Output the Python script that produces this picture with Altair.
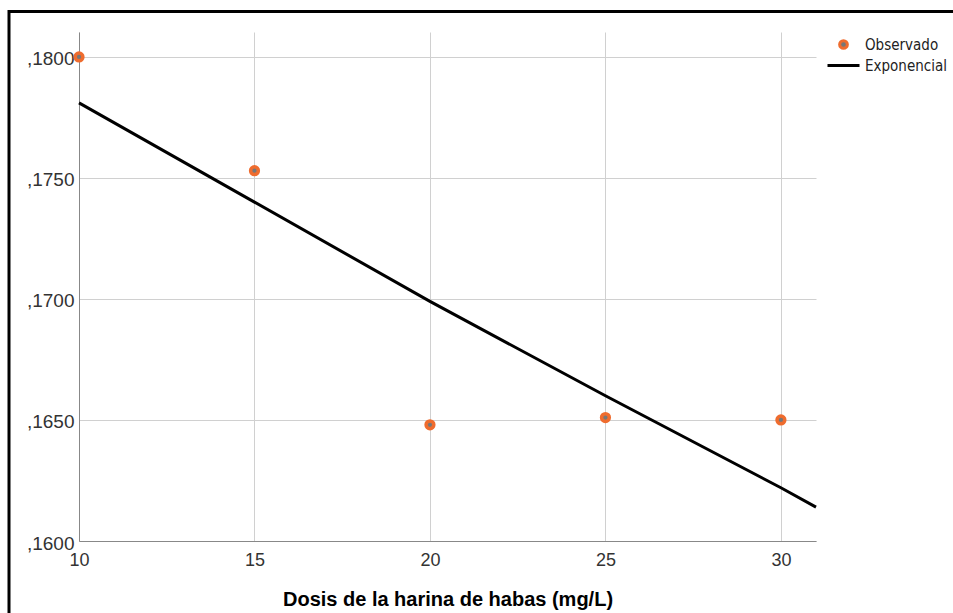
import altair as alt
import pandas as pd

# Observed data
dosis_obs = [10, 15, 20, 25, 30]
valor_obs = [0.1800, 0.1753, 0.1648, 0.1651, 0.1650]

# Fitted exponential curve
dosis_fit = [10, 15, 20, 25, 30, 31]
valor_fit = [0.1781, 0.1740, 0.1699, 0.1660, 0.1622, 0.1614]

series = ["Observado", "Exponencial"]

obs = pd.DataFrame({"x": dosis_obs, "y": valor_obs, "serie": series[0]})
fit = pd.DataFrame({"x": dosis_fit, "y": valor_fit, "serie": series[1]})

ORANGE = "#EF6C2E"
FONT = "Liberation Sans"
NARROW = "'DejaVu Sans Condensed', 'Liberation Sans Narrow', 'Liberation Sans'"

xscale = alt.Scale(domain=[10, 31], nice=False, zero=False)
yscale = alt.Scale(domain=[0.16, 0.18103], nice=False, zero=False)

xaxis = alt.Axis(values=[10, 15, 20, 25, 30], title="Dosis de la harina de habas (mg/L)",
                 titleFont=FONT, titleFontSize=20, titleFontWeight="bold", titleColor="#000",
                 titlePadding=20, labelFont=FONT, labelFontSize=18, labelColor="#333",
                 labelPadding=10, ticks=False, domainColor="#888", gridColor="#d0d0d0",
                 labelFlush=False)
yaxis = alt.Axis(values=[0.16, 0.165, 0.17, 0.175, 0.18], title=None,
                 labelExpr="',' + substring(format(datum.value, '.4f'), 2)",
                 labelFont=FONT, labelFontSize=19, labelColor="#333", labelPadding=5,
                 labelOffset=2, ticks=False, domainColor="#888", gridColor="#d0d0d0",
                 labelFlush=False)

legend = alt.Legend(title=None, orient="none", legendX=755, legendY=5,
                    labelFont=NARROW, labelFontSize=15, labelColor="#222",
                    rowPadding=1, symbolStrokeWidth=3, labelOffset=12,
                    symbolFillColor="#777")

color = alt.Color("serie:N", scale=alt.Scale(domain=series, range=[ORANGE, "#000000"]),
                  legend=legend)
shape = alt.Shape("serie:N", scale=alt.Scale(domain=series, range=["circle", "M-2,0L2,0"]),
                  legend=legend)
size = alt.Size("serie:N", scale=alt.Scale(domain=series, range=[60, 256]), legend=legend)

line = alt.Chart(fit).mark_line(strokeWidth=3, color="#000").encode(
    x=alt.X("x:Q", scale=xscale, axis=xaxis),
    y=alt.Y("y:Q", scale=yscale, axis=yaxis),
    color=color,
)

pts = alt.Chart(obs).mark_point(filled=False, fill="#777", stroke=ORANGE, strokeWidth=3.5, opacity=1).encode(
    x=alt.X("x:Q", scale=xscale),
    y=alt.Y("y:Q", scale=yscale),
    color=color,
    shape=shape,
    size=size,
)

frame = alt.Chart(alt.Data(values=[{"a": 1}])).mark_rect(fill=None, stroke="#000", strokeWidth=3).encode(
    x=alt.value(-70), x2=alt.value(1000), y=alt.value(-20.5), y2=alt.value(800)
)

chart = alt.layer(frame, line, pts).properties(
    width=737, height=509,
    autosize=alt.AutoSizeParams(type="none"),
    padding={"left": 79, "top": 32, "right": 137, "bottom": 72},
    background="white",
).configure_view(stroke=None)

chart.save("out.html", embed_options={"renderer": "svg", "actions": False})
